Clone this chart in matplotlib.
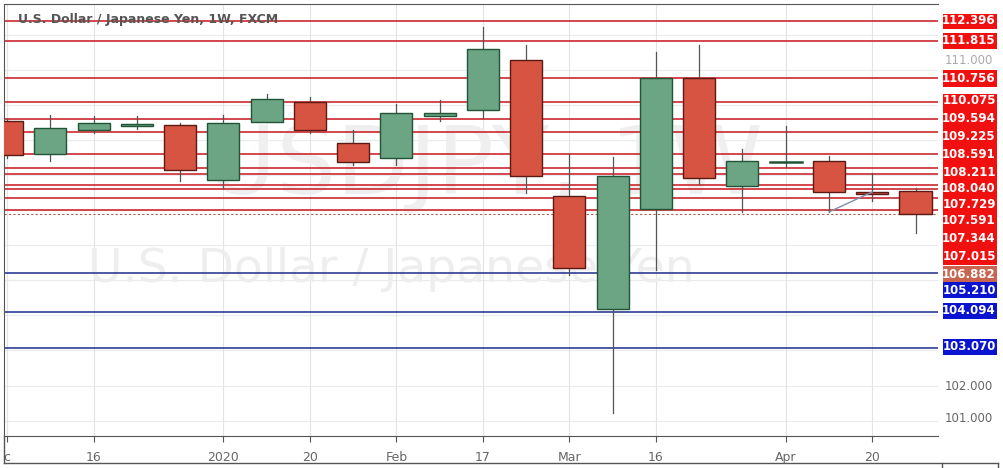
import numpy as np
import matplotlib
matplotlib.use("Agg")
import matplotlib.pyplot as plt
from matplotlib.patches import Rectangle

# weekly candles, USDJPY
opens  = [109.54, 108.60, 109.29, 109.40, 109.43, 107.86, 109.52, 110.09, 108.92, 108.49, 109.69,
          109.86, 111.28, 107.41, 104.18, 107.04, 110.77, 107.69, 108.38, 108.40, 107.52, 107.55]
highs  = [109.60, 109.72, 109.69, 109.69, 109.49, 109.72, 110.31, 110.23, 109.29, 110.03, 110.14,
          112.23, 111.71, 108.60, 108.52, 111.51, 111.71, 108.75, 109.40, 108.55, 108.06, 107.63]
lows   = [108.50, 108.40, 109.20, 109.32, 107.83, 107.63, 109.52, 109.20, 108.29, 108.29, 109.54,
          109.63, 107.49, 105.15, 101.22, 105.29, 107.75, 106.95, 108.23, 106.95, 107.26, 106.35]
closes = [108.57, 109.35, 109.49, 109.46, 108.15, 109.49, 110.17, 109.29, 108.38, 109.77, 109.77,
          111.60, 107.98, 105.35, 107.98, 110.77, 107.92, 108.40, 108.38, 107.52, 107.46, 106.89]

red_levels = [112.396, 111.815, 110.756, 110.075, 109.594, 109.225, 108.591, 108.211,
              108.040, 107.729, 107.591, 107.344, 107.015]
blue_levels = [105.210, 104.094, 103.070]
last_price = 106.882
price_ticks = [101.0, 102.0]

tick_pos = [0, 2, 5, 7, 9, 11, 13, 15, 18, 20]
tick_labels = ["c", "16", "2020", "20", "Feb", "17", "Mar", "16", "Apr", "20"]

# trend line drawn between two weeks
trend_x = [19, 20]
trend_y = [106.95, 107.52]

UP = "#6ba583"
DOWN = "#d75442"
EDGE = "#225437"
EDGE_D = "#5b1a13"

W, H = 1004, 468
fig = plt.figure(figsize=(W / 100, H / 100), dpi=100)
ax = fig.add_axes([4 / W, 1 - 436 / H, (938 - 4) / W, (436 - 4) / H])
ax.set_xlim(-0.07, 21.52)
ax.set_ylim(100.56, 112.88)

for p in np.arange(101, 113):
    ax.axhline(p, color="#e8ecef", lw=0.8, zorder=0)
for t in tick_pos:
    ax.axvline(t, color="#e3e3e3", lw=0.8, zorder=0)

ax.text(0.515, 0.62, "USDJPY, 1W", transform=ax.transAxes, ha="center", va="center",
        fontsize=68, color="#efefef", zorder=0.5)
ax.text(0.415, 0.385, "U.S. Dollar / Japanese Yen", transform=ax.transAxes, ha="center",
        va="center", fontsize=34, color="#eeeeee", zorder=0.5)

for lv in red_levels:
    ax.axhline(lv, color="#c8161d", lw=1.1, zorder=1)
for lv in blue_levels:
    ax.axhline(lv, color="#1c2c8c", lw=1.1, zorder=1)
ax.axhline(last_price, color="#b0604f", lw=0.8, ls=(0, (2, 2)), zorder=1)

bw = 0.74
for i, (o, h, l, c) in enumerate(zip(opens, highs, lows, closes)):
    up = c >= o
    ax.plot([i, i], [l, h], color="#555555", lw=0.9, zorder=2)
    bot, top = min(o, c), max(o, c)
    if top - bot < 0.03:
        ax.plot([i - bw / 2, i + bw / 2], [o, o], color=EDGE, lw=1.8, zorder=3)
        continue
    ax.add_patch(Rectangle((i - bw / 2, bot), bw, top - bot,
                           facecolor=UP if up else DOWN,
                           edgecolor=EDGE if up else EDGE_D, lw=1.0, zorder=3))

ax.plot(trend_x, trend_y, color="#7f8fb0", lw=1.0, zorder=4)

ax.text(0.015, 0.965, "U.S. Dollar / Japanese Yen, 1W, FXCM", transform=ax.transAxes,
        fontsize=9, color="#555555", fontweight="bold", va="center", zorder=5)

for s in ["top", "left", "bottom"]:
    ax.spines[s].set_color("#555555")
ax.spines["right"].set_visible(False)
ax.set_yticks([])
ax.set_xticks(tick_pos)
ax.set_xticklabels(tick_labels, fontsize=9, color="#666666")
ax.tick_params(axis="x", length=4, color="#555555", pad=7)

# right price scale
fig.add_artist(plt.Line2D([942 / W] * 2, [0, 1 - 463 / H], color="#555555", lw=1))
fig.add_artist(plt.Line2D([998 / W] * 2, [0, 1 - 463 / H], color="#555555", lw=1))
fig.add_artist(plt.Line2D([4 / W, 998 / W], [1 - 463 / H] * 2, color="#555555", lw=1))
fig.add_artist(plt.Line2D([4 / W] * 2, [1 - 436 / H, 1 - 463 / H], color="#555555", lw=1))
for y0, y1 in [(14, 29), (33, 49), (70, 87), (94, 265)]:
    fig.add_artist(Rectangle((943 / W, 1 - y1 / H), 54 / W, (y1 - y0) / H, color="#f01010", lw=0))
fig.text(969 / W, 1 - 61 / H, "111.000", ha="center", va="center", fontsize=8.5, color="#aaaaaa")

label_px = [21, 41, 78, 101, 118, 136, 154, 172, 188, 204, 221, 238, 256]
for lv, py in zip(red_levels, label_px):
    fig.text(969 / W, 1 - py / H, f"{lv:.3f}", ha="center", va="center",
             fontsize=8.5, color="white", fontweight="bold")
fig.add_artist(Rectangle((943 / W, 1 - 282 / H), 54 / W, 16 / H, color="#c96450", lw=0))
fig.text(969 / W, 1 - 274 / H, f"{last_price:.3f}", ha="center", va="center",
         fontsize=8.5, color="white", fontweight="bold")
for lv, py in zip(blue_levels, [290, 311, 347]):
    fig.add_artist(Rectangle((943 / W, 1 - (py + 8) / H), 54 / W, 16 / H, color="#0a14d0", lw=0))
    fig.text(969 / W, 1 - py / H, f"{lv:.3f}", ha="center", va="center",
             fontsize=8.5, color="white", fontweight="bold")
for p in price_ticks:
    fig.text(969 / W, 1 - (386 if p == 102.0 else 419) / H, f"{p:.3f}", ha="center",
             va="center", fontsize=8.5, color="#666666")

fig.savefig("out.png", dpi=100)
